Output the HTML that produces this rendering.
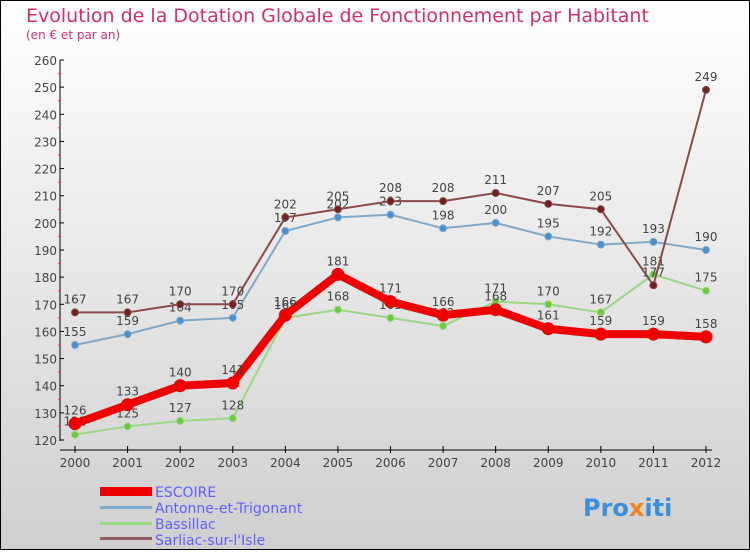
<!DOCTYPE html>
<html><head><meta charset="utf-8"><style>
body{margin:0;width:750px;height:550px;overflow:hidden;font-family:"DejaVu Sans","Liberation Sans",sans-serif}
</style></head><body>
<svg id="c" width="750" height="550" xmlns="http://www.w3.org/2000/svg">
<defs><linearGradient id="bg" x1="0" y1="0" x2="0" y2="1"><stop offset="0" stop-color="#ffffff"/><stop offset="1" stop-color="#cfcfcf"/></linearGradient></defs>
<rect x="0.5" y="0.5" width="749" height="549" fill="url(#bg)" stroke="#000"/>
<text x="26" y="22" font-size="19" fill="#d0306a">Evolution de la Dotation Globale de Fonctionnement par Habitant</text>
<text x="26" y="39" font-size="12" fill="#d0306a">(en € et par an)</text>
<g id="axes"></g><g id="series"></g>
<g>
<rect x="100" y="487" width="52" height="9" fill="#e00"/>
<text x="155" y="497" font-size="14" fill="#6060ff">ESCOIRE</text>
<rect x="100" y="506" width="52" height="3" fill="#80a8c8"/>
<text x="155" y="513" font-size="14" fill="#6060ff">Antonne-et-Trigonant</text>
<rect x="100" y="522" width="52" height="3" fill="#98d880"/>
<text x="155" y="529" font-size="14" fill="#6060ff">Bassillac</text>
<rect x="100" y="537" width="52" height="3" fill="#906060"/>
<text x="155" y="545" font-size="14" fill="#6060ff">Sarliac-sur-l'Isle</text>
</g>
<text x="583" y="516" font-size="24" font-weight="bold" fill="#3a90d8">Pro<tspan fill="#f08020">x</tspan>iti</text>
</svg>
<script>
const years=[2000,2001,2002,2003,2004,2005,2006,2007,2008,2009,2010,2011,2012];
const yTicks=[120,130,140,150,160,170,180,190,200,210,220,230,240,250,260];
const escoire=[126,133,140,141,166,181,171,166,168,161,159,159,158];
const antonne=[155,159,164,165,197,202,203,198,200,195,192,193,190];
const bassillac=[122,125,127,128,165,168,165,162,171,170,167,181,175];
const sarliac=[167,167,170,170,202,205,208,208,211,207,205,177,249];
const NS="http://www.w3.org/2000/svg";
const x=i=>75+i*(706-75)/(years.length-1);
const y=v=>440-(v-120)*(380/140);
function mk(t,a,p){const e=document.createElementNS(NS,t);for(const k in a)e.setAttribute(k,a[k]);p.appendChild(e);return e;}
const ax=document.getElementById('axes');
mk('line',{x1:60,y1:60,x2:60,y2:441,stroke:'#000'},ax);
mk('line',{x1:60,y1:450,x2:712,y2:450,stroke:'#000'},ax);
yTicks.forEach((v,i)=>{
  mk('line',{x1:60,y1:y(v),x2:64,y2:y(v),stroke:'#000'},ax);
  if(i<yTicks.length-1)mk('line',{x1:58,y1:y(v+5),x2:61,y2:y(v+5),stroke:'#f33'},ax);
  const t=mk('text',{x:57,y:y(v)+5,'font-size':12,'text-anchor':'end',fill:'#444'},ax);
  t.textContent=v;
  
  
});
years.forEach((yr,i)=>{
  mk('line',{x1:x(i),y1:446,x2:x(i),y2:453,stroke:'#000'},ax);
  const t=mk('text',{x:x(i),y:467,'font-size':12,'text-anchor':'middle',fill:'#444'},ax);
  t.textContent=yr;
  
  
});
const sg=document.getElementById('series');
function series(data,name,col,fill,w,r){
  const g=mk('g',{},sg);
  
  
  const pl=mk('polyline',{points:data.map((v,i)=>x(i)+','+y(v)).join(' '),fill:'none',stroke:col,'stroke-width':w,'stroke-linejoin':'round'},g);
  
  data.forEach((v,i)=>{
    const c=mk('circle',{cx:x(i),cy:y(v),r:r,fill:fill,stroke:col},g);
    
    
    const t=mk('text',{x:x(i),y:y(v)-9,'font-size':12,'text-anchor':'middle',fill:'#444'},g);
    t.textContent=v;
    
  });
}
series(bassillac,'bassillac','#98d880','#70c840',2,3.5);
series(antonne,'antonne','#80a8c8','#4a90d0',2,3.5);
series(sarliac,'sarliac','#8a4a4a','#702020',2,3.5);
series(escoire,'escoire','#e00','#e00',8,6);
</script>
</body></html>
